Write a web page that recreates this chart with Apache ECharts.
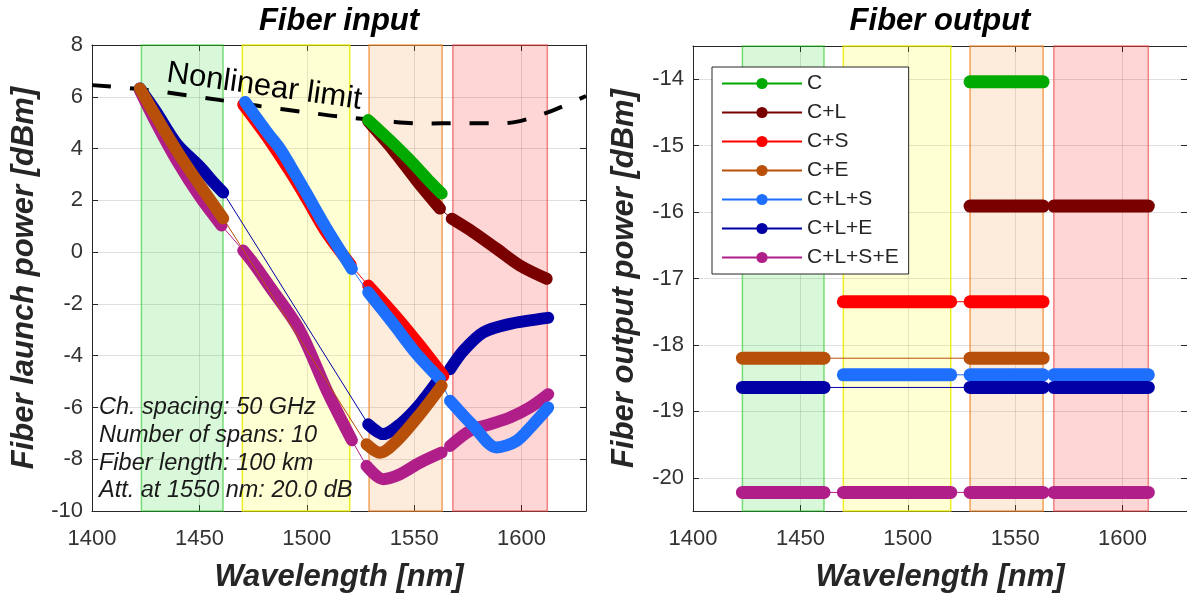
<!DOCTYPE html>
<html>
<head>
<meta charset="utf-8">
<script src="https://cdn.jsdelivr.net/npm/echarts@6/dist/echarts.min.js"></script>
<style>
html,body{margin:0;padding:0;background:#fff;overflow:hidden}
#chart{width:1187px;height:599px}
</style>
</head>
<body>
<div id="chart"></div>
<script>
// ---------------- data ----------------
const wavelengthTicks = [1400, 1450, 1500, 1550, 1600];
const launchTicks = [-10, -8, -6, -4, -2, 0, 2, 4, 6, 8];
const outputTicks = [-20, -19, -18, -17, -16, -15, -14];

const bandNames = ['E', 'S', 'C', 'L'];
const bandStart = [1423, 1470, 1529, 1568];
const bandEnd   = [1461, 1520, 1563, 1612];

const configNames  = ['C', 'C+L', 'C+S', 'C+E', 'C+L+S', 'C+L+E', 'C+L+S+E'];
const configColors = ['#00aa00', '#7a0000', '#ff0000', '#b8500a', '#1f6fff', '#0000a6', '#b01e8a'];

// Nonlinear limit (dashed)
const nliWavelength = [1400, 1424, 1459, 1478, 1498, 1515, 1541, 1554, 1572, 1592, 1610, 1630];
const nliPower      = [6.45, 6.28, 5.88, 5.64, 5.42, 5.24, 5.03, 4.97, 4.98, 4.98, 5.33, 6.03];

// Fiber launch power per configuration, one list of [wavelength, dBm] per band used
const launch_C = [
  [[1528.6, 5.10], [1538.7, 4.32], [1549.6, 3.42], [1557.4, 2.71], [1562.8, 2.26]]
];
const launch_CL = [
  [[1528.6, 5.05], [1540.3, 3.93], [1551.1, 2.77], [1562.0, 1.68]],
  [[1567.5, 1.29], [1577.5, 0.77], [1588.4, 0.13], [1599.3, -0.52], [1611.7, -1.03]]
];
const launch_CS = [
  [[1470.4, 5.70], [1482.0, 4.40], [1492.7, 3.05], [1500.0, 2.05], [1508.8, 0.80], [1520.5, -0.50]],
  [[1528.6, -1.29], [1541.9, -2.52], [1552.7, -3.61], [1563.6, -4.78]]
];
const launch_CE = [
  [[1422.3, 6.32], [1430.0, 5.22], [1439.4, 3.93], [1448.7, 2.77], [1461.1, 1.30]],
  [[1527.8, -7.42], [1534.1, -7.75], [1541.9, -7.29], [1552.7, -6.26], [1562.8, -5.16]]
];
const launch_CLS = [
  [[1471.3, 5.80], [1482.0, 4.58], [1487.5, 4.00], [1492.7, 3.29], [1499.9, 2.26], [1508.8, 0.97], [1521.0, -0.65]],
  [[1528.6, -1.55], [1540.3, -2.77], [1551.2, -3.94], [1562.0, -4.90]],
  [[1566.7, -5.74], [1577.5, -6.71], [1588.4, -7.55], [1597.7, -7.29], [1605.4, -6.65], [1612.4, -6.00]]
];
const launch_CLE = [
  [[1422.3, 6.32], [1430.0, 5.40], [1439.4, 4.19], [1450.3, 3.29], [1456.0, 2.75], [1461.1, 2.30]],
  [[1528.6, -6.65], [1535.6, -7.03], [1543.4, -6.65], [1552.7, -5.87], [1562.5, -4.80]],
  [[1566.7, -4.52], [1572.9, -3.81], [1582.2, -3.10], [1594.6, -2.77], [1612.4, -2.54]]
];
const launch_CLSE = [
  [[1422.3, 6.25], [1430.0, 4.97], [1439.4, 3.55], [1450.3, 2.13], [1460.3, 1.03]],
  [[1470.4, 0.06], [1475.3, -0.45], [1482.4, -1.29], [1496.8, -3.03], [1509.4, -5.36], [1521.0, -7.27]],
  [[1527.8, -8.26], [1535.6, -8.77], [1543.4, -8.58], [1552.7, -8.13], [1562.8, -7.74]],
  [[1566.7, -7.49], [1576.0, -6.90], [1585.3, -6.65], [1594.6, -6.39], [1603.9, -6.00], [1612.4, -5.49]]
];
const launchSets = [launch_C, launch_CL, launch_CS, launch_CE, launch_CLS, launch_CLE, launch_CLSE];

// Fiber output power (flat per band)
const outputPower = [-14.04, -15.91, -17.35, -18.20, -18.45, -18.64, -20.22];
const outputBands = [['C'], ['C', 'L'], ['S', 'C'], ['E', 'C'], ['S', 'C', 'L'], ['E', 'C', 'L'], ['E', 'S', 'C', 'L']];

// ---------------- styling ----------------
const FONT = '"Liberation Sans", Arial, Helvetica, sans-serif';
const bandFill   = ['rgba(0,200,0,0.15)', 'rgba(255,255,0,0.17)', 'rgba(245,140,40,0.17)', 'rgba(255,0,0,0.16)'];
const bandBorder = ['rgba(40,200,40,0.6)', 'rgba(235,235,0,0.85)', 'rgba(240,140,50,0.8)', 'rgba(235,70,70,0.65)'];
const launchZ = [9, 8, 5, 7, 6, 4, 3];
const outputZ = [9, 8, 7, 7, 5, 6, 4];
const AX = '#262626';

function fmt(list) { return v => (list.indexOf(Math.round(v * 1000) / 1000) >= 0 ? String(v) : ''); }

function xAxisOf(gi, bottom) {
  return {
    type: 'value', gridIndex: gi, min: 1400, max: 1630, interval: 50,
    position: bottom ? 'bottom' : 'top',
    name: bottom ? 'Wavelength [nm]' : '', nameLocation: 'middle', nameGap: 51,
    nameTextStyle: { fontSize: 31, fontWeight: 'bold', fontStyle: 'italic', color: AX, fontFamily: FONT },
    axisLine: { show: true, onZero: false, lineStyle: { color: AX, width: 1 } },
    axisTick: { show: true, inside: true, length: 6, lineStyle: { color: AX } },
    axisLabel: { show: bottom, fontSize: 22, color: '#333', margin: 17, fontFamily: FONT, formatter: fmt(wavelengthTicks) },
    splitLine: { show: bottom, lineStyle: { color: 'rgba(0,0,0,0.12)', width: 1 } }
  };
}
function yAxisOf(gi, left, isLaunch) {
  const base = {
    type: 'value', gridIndex: gi, position: left ? 'left' : 'right',
    name: left ? (isLaunch ? 'Fiber launch power [dBm]' : 'Fiber output power [dBm]') : '',
    nameLocation: 'middle', nameRotate: 90, nameGap: isLaunch ? 52 : 53,
    nameTextStyle: { fontSize: 31, fontWeight: 'bold', fontStyle: 'italic', color: AX, fontFamily: FONT },
    axisLine: { show: true, onZero: false, lineStyle: { color: AX, width: 1 } },
    axisTick: { show: true, inside: true, length: 6, lineStyle: { color: AX } },
    axisLabel: { show: left, fontSize: 22, color: '#333', margin: 9, fontFamily: FONT,
      formatter: fmt(isLaunch ? launchTicks : outputTicks) },
    splitLine: { show: left, lineStyle: { color: 'rgba(0,0,0,0.12)', width: 1 } }
  };
  if (isLaunch) { base.min = -10; base.max = 8; base.interval = 2; }
  else { base.min = -20.5; base.max = -13.5; base.splitNumber = 7; }
  return base;
}

function bandSeries(xi, yi) {
  return {
    type: 'line', xAxisIndex: xi, yAxisIndex: yi, data: [], silent: true, z: 1,
    markArea: {
      silent: true,
      label: { show: false },
      data: bandStart.map((s, i) => [
        { xAxis: s, itemStyle: { color: bandFill[i], borderColor: bandBorder[i], borderWidth: 1.5 } },
        { xAxis: bandEnd[i] }
      ])
    }
  };
}

const series = [];
// thin connecting lines (legend representatives first)
configNames.forEach((name, k) => {
  series.push({
    name, type: 'line', xAxisIndex: 0, yAxisIndex: 0, data: [].concat(...launchSets[k]),
    symbol: 'none', silent: true, emphasis: { disabled: true },
    lineStyle: { color: configColors[k], width: 1 }, itemStyle: { color: configColors[k] }, z: launchZ[k]
  });
});
series.push(bandSeries(0, 0));
series.push(bandSeries(2, 2));
// nonlinear limit
series.push({
  type: 'line', xAxisIndex: 0, yAxisIndex: 0, silent: true, symbol: 'none', z: 2, smooth: 0.3,
  data: nliWavelength.map((w, i) => [w, nliPower[i]]),
  lineStyle: { color: '#000', width: 4, type: [19, 19] }
});
// thick launch segments
configNames.forEach((name, k) => {
  launchSets[k].forEach(seg => {
    series.push({
      name, type: 'line', xAxisIndex: 0, yAxisIndex: 0, data: seg, symbol: 'none', silent: true,
      emphasis: { disabled: true }, smooth: 0.3,
      lineStyle: { color: configColors[k], width: 12, cap: 'round', join: 'round' }, z: launchZ[k]
    });
  });
});
// output: thin connectors + thick flat segments
configNames.forEach((name, k) => {
  const pts = [];
  outputBands[k].forEach(b => {
    const i = bandNames.indexOf(b);
    pts.push([bandStart[i], outputPower[k]], [bandEnd[i], outputPower[k]]);
  });
  series.push({
    name, type: 'line', xAxisIndex: 2, yAxisIndex: 2, data: pts, symbol: 'none', silent: true,
    emphasis: { disabled: true },
    lineStyle: { color: configColors[k], width: 1 }, z: outputZ[k]
  });
  outputBands[k].forEach(b => {
    const i = bandNames.indexOf(b);
    series.push({
      name, type: 'line', xAxisIndex: 2, yAxisIndex: 2, symbol: 'none', silent: true,
      emphasis: { disabled: true },
      data: [[bandStart[i], outputPower[k]], [bandEnd[i], outputPower[k]]],
      lineStyle: { color: configColors[k], width: 13, cap: 'round' }, z: outputZ[k]
    });
  });
});

const chart = echarts.init(document.getElementById('chart'), null, { renderer: 'canvas' });
chart.setOption({
  animation: false,
  backgroundColor: '#fff',
  textStyle: { fontFamily: FONT },
  grid: [
    { left: 92, top: 45, width: 494, height: 466, outerBoundsMode: 'none' },
    { left: 693, top: 46, width: 494, height: 465, outerBoundsMode: 'none' }
  ],
  xAxis: [xAxisOf(0, true), xAxisOf(0, false), xAxisOf(1, true), xAxisOf(1, false)],
  yAxis: [yAxisOf(0, true, true), yAxisOf(0, false, true), yAxisOf(1, true, false), yAxisOf(1, false, false)],
  legend: {
    data: configNames, selectedMode: false, orient: 'vertical',
    left: 712, top: 67, itemWidth: 80, itemHeight: 14, itemGap: 8,
    padding: [6, 10, 6, 9], backgroundColor: '#fff', borderColor: AX, borderWidth: 1, borderRadius: 0,
    textStyle: { fontSize: 21, color: AX, fontFamily: FONT, lineHeight: 21 },
    z: 20
  },
  graphic: [
    { type: 'text', x: 339, y: 6, z: 30, style: { text: 'Fiber input', fill: '#000', align: 'center', verticalAlign: 'top',
      font: 'italic bold 31px ' + FONT } },
    { type: 'text', x: 940, y: 6, z: 30, style: { text: 'Fiber output', fill: '#000', align: 'center', verticalAlign: 'top',
      font: 'italic bold 31px ' + FONT } },
    { type: 'text', x: 167, y: 73, rotation: -0.14, z: 30, style: { text: 'Nonlinear limit', fill: '#000', align: 'left',
      verticalAlign: 'middle', font: '31px ' + FONT } },
    { type: 'text', x: 99, y: 394, z: 30, style: {
      text: 'Ch. spacing: 50 GHz\nNumber of spans: 10\nFiber length: 100 km\nAtt. at 1550 nm: 20.0 dB',
      fill: '#1a1a1a', align: 'left', verticalAlign: 'top', lineHeight: 27.7, font: 'italic 23.5px ' + FONT } }
  ],
  series
});
</script>
</body>
</html>
